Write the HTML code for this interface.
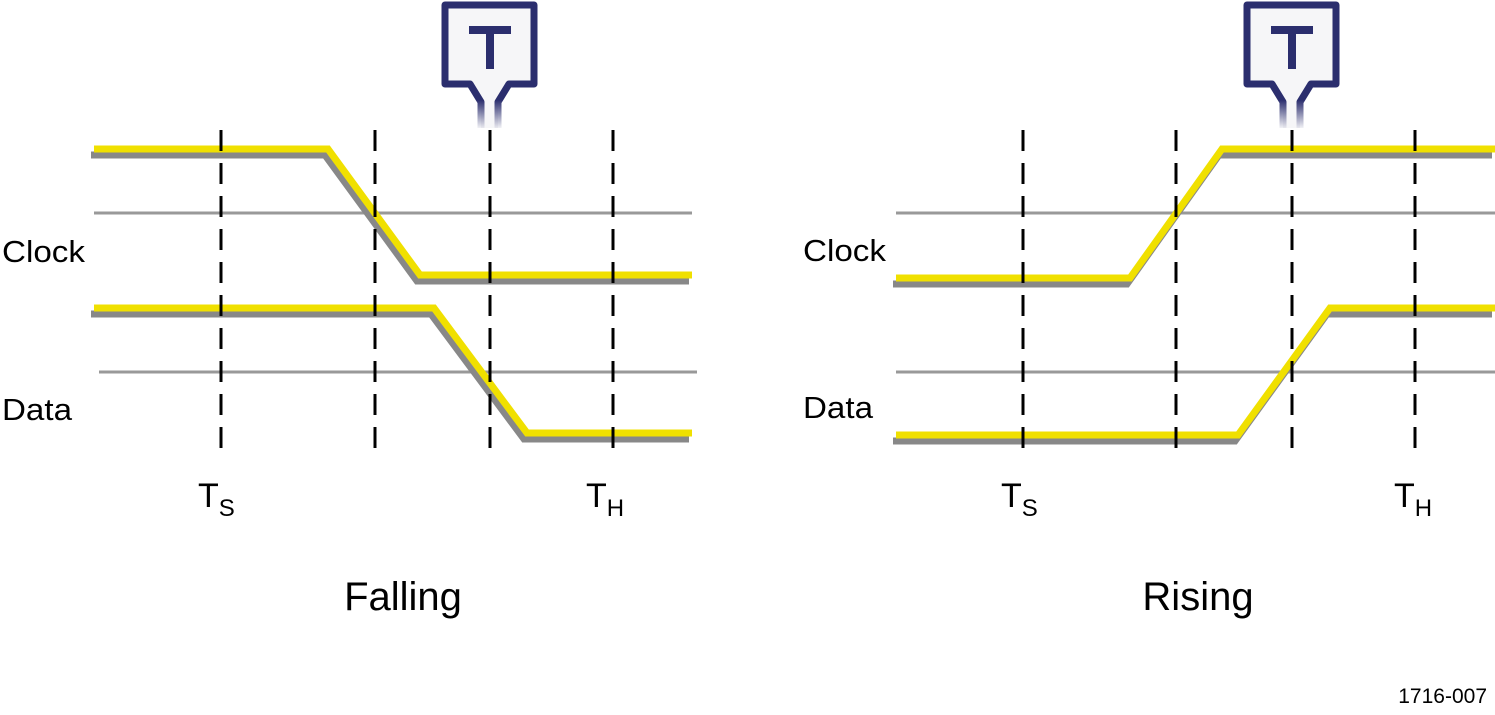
<!DOCTYPE html>
<html><head><meta charset="utf-8"><style>
html,body{margin:0;padding:0;background:#fff;}
svg{display:block;}
text{font-family:"Liberation Sans",sans-serif;fill:#000;}
</style></head><body>
<svg width="1495" height="715" viewBox="0 0 1495 715" xmlns="http://www.w3.org/2000/svg">
<defs>
<linearGradient id="fade" gradientUnits="userSpaceOnUse" x1="0" y1="98" x2="0" y2="128">
<stop offset="0" stop-color="#2b2e6e"/><stop offset="1" stop-color="#2b2e6e" stop-opacity="0"/>
</linearGradient>
<g id="marker">
<path d="M4,3 H93 V82 H68 L57,100 V126 H40 V100 L29,82 H4 Z" fill="#f6f6f8" stroke="none"/>
<path d="M40,126 V100 L29,82 H4 V3 H93 V82 H68 L57,100 V126" fill="none" stroke="url(#fade)" stroke-width="7" stroke-linejoin="round"/>
<path d="M28,24 H70 V32 H53 V67 H45 V32 H28 Z" fill="#2b2e6e"/>
</g>
</defs>
<g stroke="#999" stroke-width="3">
<line x1="94" y1="213" x2="692" y2="213"/>
<line x1="99" y1="372" x2="697" y2="372"/>
<line x1="896" y1="213" x2="1495" y2="213"/>
<line x1="896" y1="372" x2="1495" y2="372"/>
</g>
<g fill="none" stroke-width="7" stroke-linejoin="miter">
<g stroke="#888" transform="translate(-3,6)">
<polyline points="94,149 328,149 420,275 692,275"/>
<polyline points="94,308 434,308 527,433 692,433"/>
<polyline points="896,278 1130,278 1222,149 1495,149"/>
<polyline points="896,435 1238,435 1330,308 1495,308"/>
</g>
<g stroke="#f0e000">
<polyline points="94,149 328,149 420,275 692,275"/>
<polyline points="94,308 434,308 527,433 692,433"/>
<polyline points="896,278 1130,278 1222,149 1495,149"/>
<polyline points="896,435 1238,435 1330,308 1495,308"/>
</g>
</g>
<g stroke="#000" stroke-width="3" stroke-dasharray="21 12">
<line x1="221" y1="130" x2="221" y2="460"/>
<line x1="375" y1="130" x2="375" y2="460"/>
<line x1="490" y1="130" x2="490" y2="460"/>
<line x1="613" y1="130" x2="613" y2="460"/>
<line x1="1023" y1="130" x2="1023" y2="460"/>
<line x1="1176" y1="130" x2="1176" y2="460"/>
<line x1="1292" y1="130" x2="1292" y2="460"/>
<line x1="1415" y1="130" x2="1415" y2="460"/>
</g>
<use href="#marker" x="441" y="2"/>
<use href="#marker" x="1243" y="2"/>
<g font-size="31">
<text x="2" y="262" textLength="83" lengthAdjust="spacingAndGlyphs">Clock</text>
<text x="2" y="420" textLength="70" lengthAdjust="spacingAndGlyphs">Data</text>
<text x="803" y="261" textLength="83" lengthAdjust="spacingAndGlyphs">Clock</text>
<text x="803" y="418" textLength="70" lengthAdjust="spacingAndGlyphs">Data</text>
</g>
<g font-size="34">
<text x="198" y="507">T<tspan font-size="24" dy="9">S</tspan></text>
<text x="586" y="507">T<tspan font-size="24" dy="9">H</tspan></text>
<text x="1001" y="507">T<tspan font-size="24" dy="9">S</tspan></text>
<text x="1394" y="507">T<tspan font-size="24" dy="9">H</tspan></text>
</g>
<g font-size="40" text-anchor="middle">
<text x="403" y="610">Falling</text>
<text x="1198" y="610">Rising</text>
</g>
<text x="1487" y="703" font-size="21" text-anchor="end">1716-007</text>
</svg>
</body></html>
